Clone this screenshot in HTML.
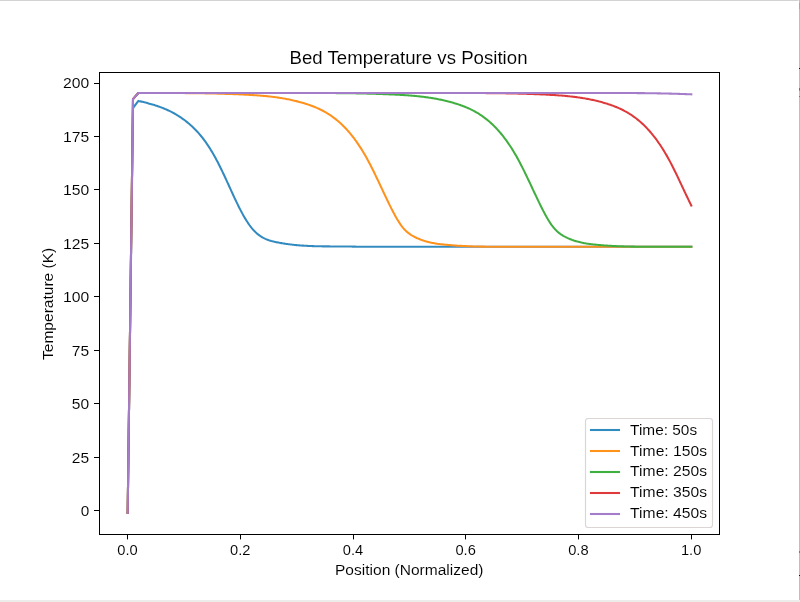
<!DOCTYPE html>
<html lang="en">
<head>
<meta charset="utf-8">
<title>Bed Temperature vs Position</title>
<style>
html,body{margin:0;padding:0;background:#ffffff;overflow:hidden;}
body{width:800px;height:602px;font-family:"Liberation Sans",sans-serif;}
svg{display:block;}
</style>
</head>
<body>
<svg width="800" height="602" viewBox="0 0 800 602">
<rect x="0" y="0" width="800" height="602" fill="#ffffff"/>
<rect x="0" y="0" width="798" height="1" fill="#d0d3d2"/>
<rect x="798" y="0" width="1" height="1" fill="#e9e5e3"/>
<rect x="0" y="600" width="800" height="2" fill="#ececea"/>
<rect x="799" y="0" width="1" height="600" fill="#bfbdc0"/>
<rect x="799" y="3" width="1" height="6" fill="#aaa6aa"/>
<rect x="799" y="68" width="1" height="1" fill="#111111"/>
<rect x="799" y="88" width="1" height="2" fill="#2a86c2"/>
<rect x="799" y="90" width="1" height="1" fill="#8a8a90"/>
<rect x="799" y="96" width="1" height="1" fill="#e2463c"/>
<rect x="799" y="551" width="1" height="2" fill="#3a8ec6"/>
<rect x="799" y="575" width="1" height="1" fill="#111111"/>
<defs><clipPath id="ax"><rect x="99.5" y="72.5" width="620" height="462"/></clipPath><filter id="gm" filterUnits="userSpaceOnUse" x="0" y="1" width="799" height="599" color-interpolation-filters="sRGB"><feComponentTransfer><feFuncR type="gamma" amplitude="1" exponent="0.79" offset="0"/><feFuncG type="gamma" amplitude="1" exponent="0.79" offset="0"/><feFuncB type="gamma" amplitude="1" exponent="0.79" offset="0"/></feComponentTransfer></filter></defs>
<g filter="url(#gm)">
<rect x="0" y="1" width="799" height="599" fill="#ffffff"/>
<g clip-path="url(#ax)" fill="none" stroke-width="2.08" stroke-linejoin="round" stroke-linecap="square">
<path d="M127.68,512.90 L133.00,108.00 L138.40,100.90 L139.40,101.15 L140.40,101.38 L141.40,101.62 L142.40,101.86 L143.40,102.10 L144.40,102.35 L145.40,102.60 L146.40,102.86 L147.40,103.11 L148.40,103.38 L149.40,103.65 L150.40,103.93 L151.40,104.21 L152.40,104.50 L153.40,104.80 L154.40,105.10 L155.40,105.42 L156.40,105.74 L157.40,106.07 L158.40,106.41 L159.40,106.77 L160.40,107.13 L161.40,107.50 L162.40,107.88 L163.40,108.28 L164.40,108.69 L165.40,109.11 L166.40,109.54 L167.40,109.98 L168.40,110.44 L169.40,110.92 L170.40,111.41 L171.40,111.91 L172.40,112.43 L173.40,112.96 L174.40,113.52 L175.40,114.08 L176.40,114.67 L177.40,115.27 L178.40,115.89 L179.40,116.53 L180.40,117.19 L181.40,117.87 L182.40,118.57 L183.40,119.28 L184.40,120.02 L185.40,120.78 L186.40,121.56 L187.40,122.36 L188.40,123.19 L189.40,124.04 L190.40,124.91 L191.40,125.81 L192.40,126.74 L193.40,127.69 L194.40,128.68 L195.40,129.69 L196.40,130.74 L197.40,131.81 L198.40,132.92 L199.40,134.07 L200.40,135.25 L201.40,136.47 L202.40,137.72 L203.40,139.01 L204.40,140.34 L205.40,141.72 L206.40,143.13 L207.40,144.58 L208.40,146.08 L209.40,147.63 L210.40,149.22 L211.40,150.85 L212.40,152.53 L213.40,154.26 L214.40,156.03 L215.40,157.85 L216.40,159.70 L217.40,161.60 L218.40,163.53 L219.40,165.49 L220.40,167.50 L221.40,169.53 L222.40,171.59 L223.40,173.68 L224.40,175.80 L225.40,177.95 L226.40,180.12 L227.40,182.31 L228.40,184.50 L229.40,186.71 L230.40,188.91 L231.40,191.11 L232.40,193.30 L233.40,195.48 L234.40,197.63 L235.40,199.76 L236.40,201.86 L237.40,203.92 L238.40,205.95 L239.40,207.93 L240.40,209.88 L241.40,211.78 L242.40,213.63 L243.40,215.43 L244.40,217.18 L245.40,218.87 L246.40,220.50 L247.40,222.06 L248.40,223.56 L249.40,225.00 L250.40,226.36 L251.40,227.64 L252.40,228.85 L253.40,229.99 L254.40,231.05 L255.40,232.05 L256.40,232.98 L257.40,233.84 L258.40,234.65 L259.40,235.40 L260.40,236.10 L261.40,236.74 L262.40,237.34 L263.40,237.89 L264.40,238.40 L265.40,238.87 L266.40,239.30 L267.40,239.69 L268.40,240.06 L269.40,240.39 L270.40,240.70 L271.40,240.99 L272.40,241.25 L273.40,241.50 L274.40,241.73 L275.40,241.95 L276.40,242.16 L277.40,242.37 L278.40,242.57 L279.40,242.76 L280.40,242.94 L281.40,243.12 L282.40,243.29 L283.40,243.46 L284.40,243.62 L285.40,243.77 L286.40,243.92 L287.40,244.06 L288.40,244.20 L289.40,244.33 L290.40,244.45 L291.40,244.57 L292.40,244.69 L293.40,244.80 L294.40,244.91 L295.40,245.01 L296.40,245.10 L297.40,245.19 L298.40,245.28 L299.40,245.36 L300.40,245.44 L301.40,245.52 L302.40,245.59 L303.40,245.66 L304.40,245.72 L305.40,245.78 L306.40,245.83 L307.40,245.89 L308.40,245.94 L309.40,245.98 L310.40,246.02 L311.40,246.06 L312.40,246.10 L313.40,246.14 L314.40,246.17 L315.40,246.20 L316.40,246.22 L317.40,246.25 L318.40,246.27 L319.40,246.29 L320.40,246.31 L321.40,246.33 L322.40,246.34 L323.40,246.36 L324.40,246.37 L325.40,246.38 L326.40,246.39 L327.40,246.40 L328.40,246.41 L329.40,246.41 L330.40,246.42 L331.40,246.42 L332.40,246.43 L333.40,246.43 L334.40,246.44 L335.40,246.44 L336.40,246.44 L337.40,246.45 L338.40,246.45 L339.40,246.46 L340.40,246.46 L341.40,246.47 L342.40,246.47 L343.40,246.48 L344.40,246.48 L345.40,246.49 L346.40,246.50 L347.40,246.51 L348.40,246.52 L349.40,246.54 L350.40,246.55 L351.40,246.57 L352.40,246.59 L353.40,246.61 L354.40,246.63 L355.40,246.65 L356.40,246.68 L357.40,246.71 L358.40,246.74 L359.40,246.75 L360.40,246.75 L361.40,246.75 L362.40,246.75 L363.40,246.75 L364.40,246.75 L365.40,246.75 L366.40,246.75 L367.40,246.75 L368.40,246.75 L369.40,246.75 L370.40,246.75 L371.40,246.75 L372.40,246.75 L373.40,246.75 L374.40,246.75 L375.40,246.75 L376.40,246.75 L377.40,246.75 L378.40,246.75 L379.40,246.75 L380.40,246.75 L381.40,246.75 L382.40,246.75 L383.40,246.75 L384.40,246.75 L385.40,246.75 L386.40,246.75 L387.40,246.75 L388.40,246.75 L389.40,246.75 L390.40,246.75 L391.40,246.75 L392.40,246.75 L393.40,246.75 L394.40,246.75 L395.40,246.75 L396.40,246.75 L397.40,246.75 L398.40,246.75 L399.40,246.75 L400.40,246.75 L401.40,246.75 L402.40,246.75 L403.40,246.75 L404.40,246.75 L405.40,246.75 L406.40,246.75 L407.40,246.75 L408.40,246.75 L409.40,246.75 L410.40,246.75 L411.40,246.75 L412.40,246.75 L413.40,246.75 L414.40,246.75 L415.40,246.75 L416.40,246.75 L417.40,246.75 L418.40,246.75 L419.40,246.75 L420.40,246.75 L421.40,246.75 L422.40,246.75 L423.40,246.75 L424.40,246.75 L425.40,246.75 L426.40,246.75 L427.40,246.75 L428.40,246.75 L429.40,246.75 L430.40,246.75 L431.40,246.75 L432.40,246.75 L433.40,246.75 L434.40,246.75 L435.40,246.75 L436.40,246.75 L437.40,246.75 L438.40,246.75 L439.40,246.75 L440.40,246.75 L441.40,246.75 L442.40,246.75 L443.40,246.75 L444.40,246.75 L445.40,246.75 L446.40,246.75 L447.40,246.75 L448.40,246.75 L449.40,246.75 L450.40,246.75 L451.40,246.75 L452.40,246.75 L453.40,246.75 L454.40,246.75 L455.40,246.75 L456.40,246.75 L457.40,246.75 L458.40,246.75 L459.40,246.75 L460.40,246.75 L461.40,246.75 L462.40,246.75 L463.40,246.75 L464.40,246.75 L465.40,246.75 L466.40,246.75 L467.40,246.75 L468.40,246.75 L469.40,246.75 L470.40,246.75 L471.40,246.75 L472.40,246.75 L473.40,246.75 L474.40,246.75 L475.40,246.75 L476.40,246.75 L477.40,246.75 L478.40,246.75 L479.40,246.75 L480.40,246.75 L481.40,246.75 L482.40,246.75 L483.40,246.75 L484.40,246.75 L485.40,246.75 L486.40,246.75 L487.40,246.75 L488.40,246.75 L489.40,246.75 L490.40,246.75 L491.40,246.75 L492.40,246.75 L493.40,246.75 L494.40,246.75 L495.40,246.75 L496.40,246.75 L497.40,246.75 L498.40,246.75 L499.40,246.75 L500.40,246.75 L501.40,246.75 L502.40,246.75 L503.40,246.75 L504.40,246.75 L505.40,246.75 L506.40,246.75 L507.40,246.75 L508.40,246.75 L509.40,246.75 L510.40,246.75 L511.40,246.75 L512.40,246.75 L513.40,246.75 L514.40,246.75 L515.40,246.75 L516.40,246.75 L517.40,246.75 L518.40,246.75 L519.40,246.75 L520.40,246.75 L521.40,246.75 L522.40,246.75 L523.40,246.75 L524.40,246.75 L525.40,246.75 L526.40,246.75 L527.40,246.75 L528.40,246.75 L529.40,246.75 L530.40,246.75 L531.40,246.75 L532.40,246.75 L533.40,246.75 L534.40,246.75 L535.40,246.75 L536.40,246.75 L537.40,246.75 L538.40,246.75 L539.40,246.75 L540.40,246.75 L541.40,246.75 L542.40,246.75 L543.40,246.75 L544.40,246.75 L545.40,246.75 L546.40,246.75 L547.40,246.75 L548.40,246.75 L549.40,246.75 L550.40,246.75 L551.40,246.75 L552.40,246.75 L553.40,246.75 L554.40,246.75 L555.40,246.75 L556.40,246.75 L557.40,246.75 L558.40,246.75 L559.40,246.75 L560.40,246.75 L561.40,246.75 L562.40,246.75 L563.40,246.75 L564.40,246.75 L565.40,246.75 L566.40,246.75 L567.40,246.75 L568.40,246.75 L569.40,246.75 L570.40,246.75 L571.40,246.75 L572.40,246.75 L573.40,246.75 L574.40,246.75 L575.40,246.75 L576.40,246.75 L577.40,246.75 L578.40,246.75 L579.40,246.75 L580.40,246.75 L581.40,246.75 L582.40,246.75 L583.40,246.75 L584.40,246.75 L585.40,246.75 L586.40,246.75 L587.40,246.75 L588.40,246.75 L589.40,246.75 L590.40,246.75 L591.40,246.75 L592.40,246.75 L593.40,246.75 L594.40,246.75 L595.40,246.75 L596.40,246.75 L597.40,246.75 L598.40,246.75 L599.40,246.75 L600.40,246.75 L601.40,246.75 L602.40,246.75 L603.40,246.75 L604.40,246.75 L605.40,246.75 L606.40,246.75 L607.40,246.75 L608.40,246.75 L609.40,246.75 L610.40,246.75 L611.40,246.75 L612.40,246.75 L613.40,246.75 L614.40,246.75 L615.40,246.75 L616.40,246.75 L617.40,246.75 L618.40,246.75 L619.40,246.75 L620.40,246.75 L621.40,246.75 L622.40,246.75 L623.40,246.75 L624.40,246.75 L625.40,246.75 L626.40,246.75 L627.40,246.75 L628.40,246.75 L629.40,246.75 L630.40,246.75 L631.40,246.75 L632.40,246.75 L633.40,246.75 L634.40,246.75 L635.40,246.75 L636.40,246.75 L637.40,246.75 L638.40,246.75 L639.40,246.75 L640.40,246.75 L641.40,246.75 L642.40,246.75 L643.40,246.75 L644.40,246.75 L645.40,246.75 L646.40,246.75 L647.40,246.75 L648.40,246.75 L649.40,246.75 L650.40,246.75 L651.40,246.75 L652.40,246.75 L653.40,246.75 L654.40,246.75 L655.40,246.75 L656.40,246.75 L657.40,246.75 L658.40,246.75 L659.40,246.75 L660.40,246.75 L661.40,246.75 L662.40,246.75 L663.40,246.75 L664.40,246.75 L665.40,246.75 L666.40,246.75 L667.40,246.75 L668.40,246.75 L669.40,246.75 L670.40,246.75 L671.40,246.75 L672.40,246.75 L673.40,246.75 L674.40,246.75 L675.40,246.75 L676.40,246.75 L677.40,246.75 L678.40,246.75 L679.40,246.75 L680.40,246.75 L681.40,246.75 L682.40,246.75 L683.40,246.75 L684.40,246.75 L685.40,246.75 L686.40,246.75 L687.40,246.75 L688.40,246.75 L689.40,246.75 L690.40,246.75 L691.30,246.75" stroke="#1f77b4"/>
<path d="M127.68,512.90 L133.00,99.10 L138.30,93.00 L139.30,93.00 L140.30,93.00 L141.30,93.00 L142.30,93.00 L143.30,93.00 L144.30,93.00 L145.30,93.00 L146.30,93.00 L147.30,93.00 L148.30,93.00 L149.30,93.00 L150.30,93.00 L151.30,93.00 L152.30,93.00 L153.30,93.00 L154.30,93.00 L155.30,93.00 L156.30,93.00 L157.30,93.00 L158.30,93.00 L159.30,93.00 L160.30,93.00 L161.30,93.00 L162.30,93.00 L163.30,93.00 L164.30,93.00 L165.30,93.00 L166.30,93.00 L167.30,93.00 L168.30,93.01 L169.30,93.01 L170.30,93.01 L171.30,93.01 L172.30,93.02 L173.30,93.02 L174.30,93.03 L175.30,93.03 L176.30,93.03 L177.30,93.04 L178.30,93.04 L179.30,93.05 L180.30,93.05 L181.30,93.06 L182.30,93.07 L183.30,93.07 L184.30,93.08 L185.30,93.09 L186.30,93.10 L187.30,93.11 L188.30,93.12 L189.30,93.12 L190.30,93.13 L191.30,93.14 L192.30,93.16 L193.30,93.17 L194.30,93.18 L195.30,93.19 L196.30,93.20 L197.30,93.22 L198.30,93.23 L199.30,93.25 L200.30,93.26 L201.30,93.28 L202.30,93.29 L203.30,93.31 L204.30,93.33 L205.30,93.34 L206.30,93.36 L207.30,93.38 L208.30,93.40 L209.30,93.42 L210.30,93.44 L211.30,93.46 L212.30,93.48 L213.30,93.51 L214.30,93.53 L215.30,93.56 L216.30,93.58 L217.30,93.61 L218.30,93.63 L219.30,93.66 L220.30,93.69 L221.30,93.72 L222.30,93.74 L223.30,93.77 L224.30,93.81 L225.30,93.84 L226.30,93.87 L227.30,93.90 L228.30,93.94 L229.30,93.97 L230.30,94.01 L231.30,94.04 L232.30,94.08 L233.30,94.12 L234.30,94.16 L235.30,94.20 L236.30,94.24 L237.30,94.28 L238.30,94.33 L239.30,94.37 L240.30,94.41 L241.30,94.46 L242.30,94.51 L243.30,94.55 L244.30,94.60 L245.30,94.65 L246.30,94.70 L247.30,94.75 L248.30,94.81 L249.30,94.86 L250.30,94.92 L251.30,94.98 L252.30,95.04 L253.30,95.10 L254.30,95.17 L255.30,95.23 L256.30,95.30 L257.30,95.38 L258.30,95.45 L259.30,95.53 L260.30,95.61 L261.30,95.69 L262.30,95.77 L263.30,95.86 L264.30,95.95 L265.30,96.05 L266.30,96.14 L267.30,96.25 L268.30,96.35 L269.30,96.46 L270.30,96.57 L271.30,96.69 L272.30,96.81 L273.30,96.93 L274.30,97.06 L275.30,97.19 L276.30,97.33 L277.30,97.47 L278.30,97.61 L279.30,97.76 L280.30,97.92 L281.30,98.08 L282.30,98.24 L283.30,98.41 L284.30,98.59 L285.30,98.77 L286.30,98.95 L287.30,99.15 L288.30,99.34 L289.30,99.55 L290.30,99.75 L291.30,99.97 L292.30,100.19 L293.30,100.41 L294.30,100.65 L295.30,100.89 L296.30,101.13 L297.30,101.38 L298.30,101.64 L299.30,101.91 L300.30,102.18 L301.30,102.46 L302.30,102.74 L303.30,103.04 L304.30,103.34 L305.30,103.65 L306.30,103.96 L307.30,104.28 L308.30,104.62 L309.30,104.96 L310.30,105.31 L311.30,105.67 L312.30,106.04 L313.30,106.43 L314.30,106.82 L315.30,107.23 L316.30,107.65 L317.30,108.09 L318.30,108.54 L319.30,109.00 L320.30,109.48 L321.30,109.97 L322.30,110.48 L323.30,111.01 L324.30,111.56 L325.30,112.12 L326.30,112.70 L327.30,113.30 L328.30,113.92 L329.30,114.56 L330.30,115.22 L331.30,115.90 L332.30,116.61 L333.30,117.33 L334.30,118.08 L335.30,118.85 L336.30,119.65 L337.30,120.47 L338.30,121.31 L339.30,122.19 L340.30,123.08 L341.30,124.01 L342.30,124.96 L343.30,125.94 L344.30,126.94 L345.30,127.98 L346.30,129.04 L347.30,130.14 L348.30,131.26 L349.30,132.42 L350.30,133.61 L351.30,134.83 L352.30,136.08 L353.30,137.37 L354.30,138.68 L355.30,140.04 L356.30,141.43 L357.30,142.85 L358.30,144.31 L359.30,145.81 L360.30,147.34 L361.30,148.91 L362.30,150.52 L363.30,152.17 L364.30,153.85 L365.30,155.58 L366.30,157.34 L367.30,159.15 L368.30,161.00 L369.30,162.89 L370.30,164.81 L371.30,166.77 L372.30,168.76 L373.30,170.78 L374.30,172.82 L375.30,174.88 L376.30,176.97 L377.30,179.06 L378.30,181.17 L379.30,183.29 L380.30,185.42 L381.30,187.55 L382.30,189.68 L383.30,191.81 L384.30,193.93 L385.30,196.04 L386.30,198.14 L387.30,200.22 L388.30,202.29 L389.30,204.34 L390.30,206.36 L391.30,208.36 L392.30,210.32 L393.30,212.24 L394.30,214.11 L395.30,215.94 L396.30,217.71 L397.30,219.42 L398.30,221.06 L399.30,222.63 L400.30,224.12 L401.30,225.53 L402.30,226.85 L403.30,228.07 L404.30,229.20 L405.30,230.24 L406.30,231.21 L407.30,232.10 L408.30,232.92 L409.30,233.68 L410.30,234.39 L411.30,235.04 L412.30,235.65 L413.30,236.21 L414.30,236.75 L415.30,237.26 L416.30,237.74 L417.30,238.21 L418.30,238.65 L419.30,239.07 L420.30,239.47 L421.30,239.85 L422.30,240.21 L423.30,240.55 L424.30,240.87 L425.30,241.18 L426.30,241.47 L427.30,241.75 L428.30,242.01 L429.30,242.25 L430.30,242.48 L431.30,242.70 L432.30,242.91 L433.30,243.10 L434.30,243.28 L435.30,243.45 L436.30,243.61 L437.30,243.76 L438.30,243.91 L439.30,244.04 L440.30,244.17 L441.30,244.29 L442.30,244.40 L443.30,244.51 L444.30,244.61 L445.30,244.71 L446.30,244.81 L447.30,244.90 L448.30,244.99 L449.30,245.08 L450.30,245.16 L451.30,245.25 L452.30,245.32 L453.30,245.40 L454.30,245.47 L455.30,245.54 L456.30,245.61 L457.30,245.68 L458.30,245.74 L459.30,245.80 L460.30,245.86 L461.30,245.91 L462.30,245.97 L463.30,246.02 L464.30,246.07 L465.30,246.12 L466.30,246.16 L467.30,246.20 L468.30,246.24 L469.30,246.28 L470.30,246.32 L471.30,246.36 L472.30,246.39 L473.30,246.42 L474.30,246.45 L475.30,246.48 L476.30,246.50 L477.30,246.53 L478.30,246.55 L479.30,246.57 L480.30,246.59 L481.30,246.61 L482.30,246.63 L483.30,246.65 L484.30,246.66 L485.30,246.68 L486.30,246.69 L487.30,246.70 L488.30,246.71 L489.30,246.72 L490.30,246.73 L491.30,246.74 L492.30,246.74 L493.30,246.75 L494.30,246.75 L495.30,246.75 L496.30,246.75 L497.30,246.75 L498.30,246.75 L499.30,246.75 L500.30,246.75 L501.30,246.75 L502.30,246.75 L503.30,246.75 L504.30,246.75 L505.30,246.75 L506.30,246.75 L507.30,246.75 L508.30,246.75 L509.30,246.75 L510.30,246.75 L511.30,246.75 L512.30,246.75 L513.30,246.75 L514.30,246.75 L515.30,246.75 L516.30,246.74 L517.30,246.74 L518.30,246.74 L519.30,246.74 L520.30,246.75 L521.30,246.75 L522.30,246.75 L523.30,246.75 L524.30,246.75 L525.30,246.75 L526.30,246.75 L527.30,246.75 L528.30,246.75 L529.30,246.75 L530.30,246.75 L531.30,246.75 L532.30,246.75 L533.30,246.75 L534.30,246.75 L535.30,246.75 L536.30,246.75 L537.30,246.75 L538.30,246.75 L539.30,246.75 L540.30,246.75 L541.30,246.75 L542.30,246.75 L543.30,246.75 L544.30,246.75 L545.30,246.75 L546.30,246.75 L547.30,246.75 L548.30,246.75 L549.30,246.75 L550.30,246.75 L551.30,246.75 L552.30,246.75 L553.30,246.75 L554.30,246.75 L555.30,246.75 L556.30,246.75 L557.30,246.75 L558.30,246.75 L559.30,246.75 L560.30,246.75 L561.30,246.75 L562.30,246.75 L563.30,246.75 L564.30,246.75 L565.30,246.75 L566.30,246.75 L567.30,246.75 L568.30,246.75 L569.30,246.75 L570.30,246.75 L571.30,246.75 L572.30,246.75 L573.30,246.75 L574.30,246.75 L575.30,246.75 L576.30,246.75 L577.30,246.75 L578.30,246.75 L579.30,246.75 L580.30,246.75 L581.30,246.75 L582.30,246.75 L583.30,246.75 L584.30,246.75 L585.30,246.75 L586.30,246.75 L587.30,246.75 L588.30,246.75 L589.30,246.75 L590.30,246.75 L591.30,246.75 L592.30,246.75 L593.30,246.75 L594.30,246.75 L595.30,246.75 L596.30,246.75 L597.30,246.75 L598.30,246.75 L599.30,246.75 L600.30,246.75 L601.30,246.75 L602.30,246.75 L603.30,246.75 L604.30,246.75 L605.30,246.75 L606.30,246.75 L607.30,246.75 L608.30,246.75 L609.30,246.75 L610.30,246.75 L611.30,246.75 L612.30,246.75 L613.30,246.75 L614.30,246.75 L615.30,246.75 L616.30,246.75 L617.30,246.75 L618.30,246.75 L619.30,246.75 L620.30,246.75 L621.30,246.75 L622.30,246.75 L623.30,246.75 L624.30,246.75 L625.30,246.75 L626.30,246.75 L627.30,246.75 L628.30,246.75 L629.30,246.75 L630.30,246.75 L631.30,246.75 L632.30,246.75 L633.30,246.75 L634.30,246.75 L635.30,246.75 L636.30,246.75 L637.30,246.75 L638.30,246.75 L639.30,246.75 L640.30,246.75 L641.30,246.75 L642.30,246.75 L643.30,246.75 L644.30,246.75 L645.30,246.75 L646.30,246.75 L647.30,246.75 L648.30,246.75 L649.30,246.75 L650.30,246.75 L651.30,246.75 L652.30,246.75 L653.30,246.75 L654.30,246.75 L655.30,246.75 L656.30,246.75 L657.30,246.75 L658.30,246.75 L659.30,246.75 L660.30,246.75 L661.30,246.75 L662.30,246.75 L663.30,246.75 L664.30,246.75 L665.30,246.75 L666.30,246.75 L667.30,246.75 L668.30,246.75 L669.30,246.75 L670.30,246.75 L671.30,246.75 L672.30,246.75 L673.30,246.75 L674.30,246.75 L675.30,246.75 L676.30,246.75 L677.30,246.75 L678.30,246.75 L679.30,246.75 L680.30,246.75 L681.30,246.75 L682.30,246.75 L683.30,246.75 L684.30,246.75 L685.30,246.75 L686.30,246.75 L687.30,246.75 L688.30,246.75 L689.30,246.75 L690.30,246.75 L691.30,246.75" stroke="#ff7f0e"/>
<path d="M127.68,512.90 L133.00,99.10 L138.30,93.00 L139.30,93.00 L140.30,93.00 L141.30,93.00 L142.30,93.00 L143.30,93.00 L144.30,93.00 L145.30,93.00 L146.30,93.00 L147.30,93.00 L148.30,93.00 L149.30,93.00 L150.30,93.00 L151.30,93.00 L152.30,93.00 L153.30,93.00 L154.30,93.00 L155.30,93.00 L156.30,93.00 L157.30,93.00 L158.30,93.00 L159.30,93.00 L160.30,93.00 L161.30,93.00 L162.30,93.00 L163.30,93.00 L164.30,93.00 L165.30,93.00 L166.30,93.00 L167.30,93.00 L168.30,93.00 L169.30,93.00 L170.30,93.00 L171.30,93.00 L172.30,93.00 L173.30,93.00 L174.30,93.00 L175.30,93.00 L176.30,93.00 L177.30,93.00 L178.30,93.00 L179.30,93.00 L180.30,93.00 L181.30,93.00 L182.30,93.00 L183.30,93.00 L184.30,93.00 L185.30,93.00 L186.30,93.00 L187.30,93.00 L188.30,93.00 L189.30,93.00 L190.30,93.00 L191.30,93.00 L192.30,93.00 L193.30,93.00 L194.30,93.00 L195.30,93.00 L196.30,93.00 L197.30,93.00 L198.30,93.00 L199.30,93.00 L200.30,93.00 L201.30,93.00 L202.30,93.00 L203.30,93.00 L204.30,93.00 L205.30,93.00 L206.30,93.00 L207.30,93.00 L208.30,93.00 L209.30,93.00 L210.30,93.00 L211.30,93.00 L212.30,93.00 L213.30,93.00 L214.30,93.00 L215.30,93.00 L216.30,93.00 L217.30,93.00 L218.30,93.00 L219.30,93.00 L220.30,93.00 L221.30,93.00 L222.30,93.00 L223.30,93.00 L224.30,93.00 L225.30,93.00 L226.30,93.00 L227.30,93.00 L228.30,93.00 L229.30,93.00 L230.30,93.00 L231.30,93.00 L232.30,93.00 L233.30,93.00 L234.30,93.00 L235.30,93.00 L236.30,93.00 L237.30,93.00 L238.30,93.00 L239.30,93.00 L240.30,93.00 L241.30,93.00 L242.30,93.00 L243.30,93.00 L244.30,93.00 L245.30,93.00 L246.30,93.00 L247.30,93.00 L248.30,93.00 L249.30,93.00 L250.30,93.00 L251.30,93.00 L252.30,93.00 L253.30,93.00 L254.30,93.00 L255.30,93.00 L256.30,93.00 L257.30,93.00 L258.30,93.00 L259.30,93.00 L260.30,93.00 L261.30,93.00 L262.30,93.00 L263.30,93.00 L264.30,93.00 L265.30,93.00 L266.30,93.00 L267.30,93.00 L268.30,93.00 L269.30,93.00 L270.30,93.00 L271.30,93.00 L272.30,93.00 L273.30,93.00 L274.30,93.00 L275.30,93.00 L276.30,93.00 L277.30,93.00 L278.30,93.00 L279.30,93.00 L280.30,93.00 L281.30,93.00 L282.30,93.00 L283.30,93.00 L284.30,93.00 L285.30,93.00 L286.30,93.00 L287.30,93.00 L288.30,93.00 L289.30,93.00 L290.30,93.00 L291.30,93.00 L292.30,93.00 L293.30,93.00 L294.30,93.00 L295.30,93.00 L296.30,93.00 L297.30,93.00 L298.30,93.00 L299.30,93.00 L300.30,93.00 L301.30,93.00 L302.30,93.00 L303.30,93.00 L304.30,93.00 L305.30,93.00 L306.30,93.00 L307.30,93.00 L308.30,93.00 L309.30,93.00 L310.30,93.00 L311.30,93.00 L312.30,93.00 L313.30,93.00 L314.30,93.00 L315.30,93.00 L316.30,93.00 L317.30,93.00 L318.30,93.00 L319.30,93.01 L320.30,93.01 L321.30,93.01 L322.30,93.02 L323.30,93.02 L324.30,93.02 L325.30,93.03 L326.30,93.03 L327.30,93.04 L328.30,93.04 L329.30,93.05 L330.30,93.05 L331.30,93.06 L332.30,93.06 L333.30,93.07 L334.30,93.08 L335.30,93.08 L336.30,93.09 L337.30,93.10 L338.30,93.11 L339.30,93.12 L340.30,93.13 L341.30,93.14 L342.30,93.15 L343.30,93.16 L344.30,93.17 L345.30,93.18 L346.30,93.19 L347.30,93.21 L348.30,93.22 L349.30,93.23 L350.30,93.25 L351.30,93.26 L352.30,93.28 L353.30,93.30 L354.30,93.31 L355.30,93.33 L356.30,93.35 L357.30,93.37 L358.30,93.39 L359.30,93.41 L360.30,93.43 L361.30,93.45 L362.30,93.47 L363.30,93.49 L364.30,93.51 L365.30,93.54 L366.30,93.56 L367.30,93.59 L368.30,93.61 L369.30,93.64 L370.30,93.67 L371.30,93.70 L372.30,93.72 L373.30,93.75 L374.30,93.78 L375.30,93.82 L376.30,93.85 L377.30,93.88 L378.30,93.91 L379.30,93.95 L380.30,93.98 L381.30,94.02 L382.30,94.06 L383.30,94.09 L384.30,94.13 L385.30,94.17 L386.30,94.21 L387.30,94.25 L388.30,94.30 L389.30,94.34 L390.30,94.38 L391.30,94.43 L392.30,94.47 L393.30,94.52 L394.30,94.57 L395.30,94.62 L396.30,94.67 L397.30,94.72 L398.30,94.77 L399.30,94.82 L400.30,94.88 L401.30,94.94 L402.30,95.00 L403.30,95.06 L404.30,95.12 L405.30,95.19 L406.30,95.25 L407.30,95.32 L408.30,95.40 L409.30,95.47 L410.30,95.55 L411.30,95.63 L412.30,95.71 L413.30,95.80 L414.30,95.89 L415.30,95.98 L416.30,96.08 L417.30,96.17 L418.30,96.28 L419.30,96.38 L420.30,96.49 L421.30,96.60 L422.30,96.72 L423.30,96.84 L424.30,96.97 L425.30,97.10 L426.30,97.23 L427.30,97.37 L428.30,97.51 L429.30,97.66 L430.30,97.81 L431.30,97.97 L432.30,98.13 L433.30,98.29 L434.30,98.47 L435.30,98.64 L436.30,98.82 L437.30,99.01 L438.30,99.20 L439.30,99.40 L440.30,99.61 L441.30,99.82 L442.30,100.03 L443.30,100.26 L444.30,100.48 L445.30,100.72 L446.30,100.96 L447.30,101.21 L448.30,101.46 L449.30,101.72 L450.30,101.99 L451.30,102.26 L452.30,102.54 L453.30,102.83 L454.30,103.13 L455.30,103.43 L456.30,103.74 L457.30,104.06 L458.30,104.38 L459.30,104.72 L460.30,105.06 L461.30,105.42 L462.30,105.78 L463.30,106.16 L464.30,106.54 L465.30,106.94 L466.30,107.36 L467.30,107.78 L468.30,108.22 L469.30,108.67 L470.30,109.14 L471.30,109.62 L472.30,110.12 L473.30,110.64 L474.30,111.17 L475.30,111.72 L476.30,112.29 L477.30,112.88 L478.30,113.48 L479.30,114.11 L480.30,114.76 L481.30,115.42 L482.30,116.11 L483.30,116.82 L484.30,117.55 L485.30,118.31 L486.30,119.09 L487.30,119.89 L488.30,120.72 L489.30,121.57 L490.30,122.45 L491.30,123.36 L492.30,124.29 L493.30,125.25 L494.30,126.23 L495.30,127.25 L496.30,128.29 L497.30,129.37 L498.30,130.47 L499.30,131.61 L500.30,132.77 L501.30,133.97 L502.30,135.20 L503.30,136.46 L504.30,137.76 L505.30,139.09 L506.30,140.45 L507.30,141.85 L508.30,143.28 L509.30,144.76 L510.30,146.26 L511.30,147.81 L512.30,149.39 L513.30,151.01 L514.30,152.67 L515.30,154.37 L516.30,156.10 L517.30,157.88 L518.30,159.70 L519.30,161.56 L520.30,163.46 L521.30,165.40 L522.30,167.37 L523.30,169.36 L524.30,171.39 L525.30,173.44 L526.30,175.51 L527.30,177.59 L528.30,179.70 L529.30,181.81 L530.30,183.93 L531.30,186.06 L532.30,188.19 L533.30,190.32 L534.30,192.44 L535.30,194.56 L536.30,196.67 L537.30,198.77 L538.30,200.85 L539.30,202.91 L540.30,204.95 L541.30,206.96 L542.30,208.95 L543.30,210.90 L544.30,212.81 L545.30,214.67 L546.30,216.48 L547.30,218.23 L548.30,219.92 L549.30,221.54 L550.30,223.09 L551.30,224.55 L552.30,225.93 L553.30,227.22 L554.30,228.42 L555.30,229.52 L556.30,230.54 L557.30,231.48 L558.30,232.35 L559.30,233.16 L560.30,233.90 L561.30,234.59 L562.30,235.23 L563.30,235.82 L564.30,236.38 L565.30,236.91 L566.30,237.41 L567.30,237.89 L568.30,238.34 L569.30,238.78 L570.30,239.19 L571.30,239.58 L572.30,239.96 L573.30,240.31 L574.30,240.65 L575.30,240.97 L576.30,241.27 L577.30,241.56 L578.30,241.83 L579.30,242.08 L580.30,242.32 L581.30,242.55 L582.30,242.76 L583.30,242.96 L584.30,243.15 L585.30,243.33 L586.30,243.50 L587.30,243.66 L588.30,243.81 L589.30,243.95 L590.30,244.08 L591.30,244.20 L592.30,244.32 L593.30,244.44 L594.30,244.54 L595.30,244.65 L596.30,244.74 L597.30,244.84 L598.30,244.93 L599.30,245.02 L600.30,245.11 L601.30,245.19 L602.30,245.27 L603.30,245.35 L604.30,245.42 L605.30,245.49 L606.30,245.56 L607.30,245.63 L608.30,245.70 L609.30,245.76 L610.30,245.82 L611.30,245.88 L612.30,245.93 L613.30,245.98 L614.30,246.03 L615.30,246.08 L616.30,246.13 L617.30,246.17 L618.30,246.22 L619.30,246.26 L620.30,246.29 L621.30,246.33 L622.30,246.37 L623.30,246.40 L624.30,246.43 L625.30,246.46 L626.30,246.49 L627.30,246.51 L628.30,246.54 L629.30,246.56 L630.30,246.58 L631.30,246.60 L632.30,246.62 L633.30,246.64 L634.30,246.65 L635.30,246.67 L636.30,246.68 L637.30,246.69 L638.30,246.70 L639.30,246.71 L640.30,246.72 L641.30,246.73 L642.30,246.74 L643.30,246.74 L644.30,246.75 L645.30,246.75 L646.30,246.75 L647.30,246.75 L648.30,246.75 L649.30,246.75 L650.30,246.75 L651.30,246.75 L652.30,246.75 L653.30,246.75 L654.30,246.75 L655.30,246.75 L656.30,246.75 L657.30,246.75 L658.30,246.75 L659.30,246.75 L660.30,246.75 L661.30,246.75 L662.30,246.75 L663.30,246.75 L664.30,246.75 L665.30,246.75 L666.30,246.75 L667.30,246.74 L668.30,246.74 L669.30,246.74 L670.30,246.74 L671.30,246.75 L672.30,246.75 L673.30,246.75 L674.30,246.75 L675.30,246.75 L676.30,246.75 L677.30,246.75 L678.30,246.75 L679.30,246.75 L680.30,246.75 L681.30,246.75 L682.30,246.75 L683.30,246.75 L684.30,246.75 L685.30,246.75 L686.30,246.75 L687.30,246.75 L688.30,246.75 L689.30,246.75 L690.30,246.75 L691.30,246.75" stroke="#2ca02c"/>
<path d="M127.68,512.90 L133.00,99.10 L138.30,93.00 L139.30,93.00 L140.30,93.00 L141.30,93.00 L142.30,93.00 L143.30,93.00 L144.30,93.00 L145.30,93.00 L146.30,93.00 L147.30,93.00 L148.30,93.00 L149.30,93.00 L150.30,93.00 L151.30,93.00 L152.30,93.00 L153.30,93.00 L154.30,93.00 L155.30,93.00 L156.30,93.00 L157.30,93.00 L158.30,93.00 L159.30,93.00 L160.30,93.00 L161.30,93.00 L162.30,93.00 L163.30,93.00 L164.30,93.00 L165.30,93.00 L166.30,93.00 L167.30,93.00 L168.30,93.00 L169.30,93.00 L170.30,93.00 L171.30,93.00 L172.30,93.00 L173.30,93.00 L174.30,93.00 L175.30,93.00 L176.30,93.00 L177.30,93.00 L178.30,93.00 L179.30,93.00 L180.30,93.00 L181.30,93.00 L182.30,93.00 L183.30,93.00 L184.30,93.00 L185.30,93.00 L186.30,93.00 L187.30,93.00 L188.30,93.00 L189.30,93.00 L190.30,93.00 L191.30,93.00 L192.30,93.00 L193.30,93.00 L194.30,93.00 L195.30,93.00 L196.30,93.00 L197.30,93.00 L198.30,93.00 L199.30,93.00 L200.30,93.00 L201.30,93.00 L202.30,93.00 L203.30,93.00 L204.30,93.00 L205.30,93.00 L206.30,93.00 L207.30,93.00 L208.30,93.00 L209.30,93.00 L210.30,93.00 L211.30,93.00 L212.30,93.00 L213.30,93.00 L214.30,93.00 L215.30,93.00 L216.30,93.00 L217.30,93.00 L218.30,93.00 L219.30,93.00 L220.30,93.00 L221.30,93.00 L222.30,93.00 L223.30,93.00 L224.30,93.00 L225.30,93.00 L226.30,93.00 L227.30,93.00 L228.30,93.00 L229.30,93.00 L230.30,93.00 L231.30,93.00 L232.30,93.00 L233.30,93.00 L234.30,93.00 L235.30,93.00 L236.30,93.00 L237.30,93.00 L238.30,93.00 L239.30,93.00 L240.30,93.00 L241.30,93.00 L242.30,93.00 L243.30,93.00 L244.30,93.00 L245.30,93.00 L246.30,93.00 L247.30,93.00 L248.30,93.00 L249.30,93.00 L250.30,93.00 L251.30,93.00 L252.30,93.00 L253.30,93.00 L254.30,93.00 L255.30,93.00 L256.30,93.00 L257.30,93.00 L258.30,93.00 L259.30,93.00 L260.30,93.00 L261.30,93.00 L262.30,93.00 L263.30,93.00 L264.30,93.00 L265.30,93.00 L266.30,93.00 L267.30,93.00 L268.30,93.00 L269.30,93.00 L270.30,93.00 L271.30,93.00 L272.30,93.00 L273.30,93.00 L274.30,93.00 L275.30,93.00 L276.30,93.00 L277.30,93.00 L278.30,93.00 L279.30,93.00 L280.30,93.00 L281.30,93.00 L282.30,93.00 L283.30,93.00 L284.30,93.00 L285.30,93.00 L286.30,93.00 L287.30,93.00 L288.30,93.00 L289.30,93.00 L290.30,93.00 L291.30,93.00 L292.30,93.00 L293.30,93.00 L294.30,93.00 L295.30,93.00 L296.30,93.00 L297.30,93.00 L298.30,93.00 L299.30,93.00 L300.30,93.00 L301.30,93.00 L302.30,93.00 L303.30,93.00 L304.30,93.00 L305.30,93.00 L306.30,93.00 L307.30,93.00 L308.30,93.00 L309.30,93.00 L310.30,93.00 L311.30,93.00 L312.30,93.00 L313.30,93.00 L314.30,93.00 L315.30,93.00 L316.30,93.00 L317.30,93.00 L318.30,93.00 L319.30,93.00 L320.30,93.00 L321.30,93.00 L322.30,93.00 L323.30,93.00 L324.30,93.00 L325.30,93.00 L326.30,93.00 L327.30,93.00 L328.30,93.00 L329.30,93.00 L330.30,93.00 L331.30,93.00 L332.30,93.00 L333.30,93.00 L334.30,93.00 L335.30,93.00 L336.30,93.00 L337.30,93.00 L338.30,93.00 L339.30,93.00 L340.30,93.00 L341.30,93.00 L342.30,93.00 L343.30,93.00 L344.30,93.00 L345.30,93.00 L346.30,93.00 L347.30,93.00 L348.30,93.00 L349.30,93.00 L350.30,93.00 L351.30,93.00 L352.30,93.00 L353.30,93.00 L354.30,93.00 L355.30,93.00 L356.30,93.00 L357.30,93.00 L358.30,93.00 L359.30,93.00 L360.30,93.00 L361.30,93.00 L362.30,93.00 L363.30,93.00 L364.30,93.00 L365.30,93.00 L366.30,93.00 L367.30,93.00 L368.30,93.00 L369.30,93.00 L370.30,93.00 L371.30,93.00 L372.30,93.00 L373.30,93.00 L374.30,93.00 L375.30,93.00 L376.30,93.00 L377.30,93.00 L378.30,93.00 L379.30,93.00 L380.30,93.00 L381.30,93.00 L382.30,93.00 L383.30,93.00 L384.30,93.00 L385.30,93.00 L386.30,93.00 L387.30,93.00 L388.30,93.00 L389.30,93.00 L390.30,93.00 L391.30,93.00 L392.30,93.00 L393.30,93.00 L394.30,93.00 L395.30,93.00 L396.30,93.00 L397.30,93.00 L398.30,93.00 L399.30,93.00 L400.30,93.00 L401.30,93.00 L402.30,93.00 L403.30,93.00 L404.30,93.00 L405.30,93.00 L406.30,93.00 L407.30,93.00 L408.30,93.00 L409.30,93.00 L410.30,93.00 L411.30,93.00 L412.30,93.00 L413.30,93.00 L414.30,93.00 L415.30,93.00 L416.30,93.00 L417.30,93.00 L418.30,93.00 L419.30,93.00 L420.30,93.00 L421.30,93.00 L422.30,93.00 L423.30,93.00 L424.30,93.00 L425.30,93.00 L426.30,93.00 L427.30,93.00 L428.30,93.00 L429.30,93.00 L430.30,93.00 L431.30,93.00 L432.30,93.00 L433.30,93.00 L434.30,93.00 L435.30,93.00 L436.30,93.00 L437.30,93.00 L438.30,93.00 L439.30,93.00 L440.30,93.00 L441.30,93.00 L442.30,93.00 L443.30,93.00 L444.30,93.00 L445.30,93.00 L446.30,93.00 L447.30,93.00 L448.30,93.00 L449.30,93.00 L450.30,93.00 L451.30,93.00 L452.30,93.00 L453.30,93.00 L454.30,93.00 L455.30,93.00 L456.30,93.00 L457.30,93.00 L458.30,93.00 L459.30,93.00 L460.30,93.00 L461.30,93.00 L462.30,93.00 L463.30,93.00 L464.30,93.00 L465.30,93.00 L466.30,93.00 L467.30,93.00 L468.30,93.00 L469.30,93.01 L470.30,93.01 L471.30,93.01 L472.30,93.01 L473.30,93.02 L474.30,93.02 L475.30,93.02 L476.30,93.03 L477.30,93.03 L478.30,93.04 L479.30,93.04 L480.30,93.05 L481.30,93.05 L482.30,93.06 L483.30,93.06 L484.30,93.07 L485.30,93.08 L486.30,93.09 L487.30,93.09 L488.30,93.10 L489.30,93.11 L490.30,93.12 L491.30,93.13 L492.30,93.14 L493.30,93.15 L494.30,93.16 L495.30,93.17 L496.30,93.19 L497.30,93.20 L498.30,93.21 L499.30,93.23 L500.30,93.24 L501.30,93.25 L502.30,93.27 L503.30,93.28 L504.30,93.30 L505.30,93.32 L506.30,93.34 L507.30,93.35 L508.30,93.37 L509.30,93.39 L510.30,93.41 L511.30,93.43 L512.30,93.45 L513.30,93.48 L514.30,93.50 L515.30,93.52 L516.30,93.55 L517.30,93.57 L518.30,93.60 L519.30,93.62 L520.30,93.65 L521.30,93.68 L522.30,93.70 L523.30,93.73 L524.30,93.76 L525.30,93.79 L526.30,93.82 L527.30,93.86 L528.30,93.89 L529.30,93.92 L530.30,93.96 L531.30,93.99 L532.30,94.03 L533.30,94.07 L534.30,94.10 L535.30,94.14 L536.30,94.18 L537.30,94.22 L538.30,94.27 L539.30,94.31 L540.30,94.35 L541.30,94.40 L542.30,94.44 L543.30,94.49 L544.30,94.53 L545.30,94.58 L546.30,94.63 L547.30,94.68 L548.30,94.73 L549.30,94.79 L550.30,94.84 L551.30,94.90 L552.30,94.96 L553.30,95.02 L554.30,95.08 L555.30,95.14 L556.30,95.21 L557.30,95.28 L558.30,95.35 L559.30,95.42 L560.30,95.49 L561.30,95.57 L562.30,95.65 L563.30,95.74 L564.30,95.82 L565.30,95.91 L566.30,96.01 L567.30,96.10 L568.30,96.20 L569.30,96.31 L570.30,96.41 L571.30,96.52 L572.30,96.64 L573.30,96.76 L574.30,96.88 L575.30,97.01 L576.30,97.14 L577.30,97.27 L578.30,97.41 L579.30,97.55 L580.30,97.70 L581.30,97.86 L582.30,98.01 L583.30,98.18 L584.30,98.34 L585.30,98.52 L586.30,98.70 L587.30,98.88 L588.30,99.07 L589.30,99.26 L590.30,99.46 L591.30,99.67 L592.30,99.88 L593.30,100.10 L594.30,100.32 L595.30,100.55 L596.30,100.79 L597.30,101.03 L598.30,101.28 L599.30,101.54 L600.30,101.80 L601.30,102.07 L602.30,102.35 L603.30,102.63 L604.30,102.92 L605.30,103.22 L606.30,103.52 L607.30,103.83 L608.30,104.15 L609.30,104.48 L610.30,104.82 L611.30,105.17 L612.30,105.53 L613.30,105.89 L614.30,106.27 L615.30,106.66 L616.30,107.07 L617.30,107.48 L618.30,107.91 L619.30,108.35 L620.30,108.81 L621.30,109.28 L622.30,109.77 L623.30,110.28 L624.30,110.80 L625.30,111.34 L626.30,111.89 L627.30,112.46 L628.30,113.06 L629.30,113.67 L630.30,114.30 L631.30,114.95 L632.30,115.63 L633.30,116.32 L634.30,117.04 L635.30,117.78 L636.30,118.54 L637.30,119.33 L638.30,120.14 L639.30,120.97 L640.30,121.83 L641.30,122.72 L642.30,123.63 L643.30,124.57 L644.30,125.54 L645.30,126.54 L646.30,127.56 L647.30,128.61 L648.30,129.70 L649.30,130.81 L650.30,131.95 L651.30,133.13 L652.30,134.34 L653.30,135.57 L654.30,136.85 L655.30,138.15 L656.30,139.49 L657.30,140.87 L658.30,142.28 L659.30,143.72 L660.30,145.20 L661.30,146.72 L662.30,148.28 L663.30,149.87 L664.30,151.50 L665.30,153.17 L666.30,154.88 L667.30,156.63 L668.30,158.42 L669.30,160.26 L670.30,162.13 L671.30,164.04 L672.30,165.98 L673.30,167.96 L674.30,169.97 L675.30,172.00 L676.30,174.06 L677.30,176.13 L678.30,178.22 L679.30,180.33 L680.30,182.45 L681.30,184.57 L682.30,186.70 L683.30,188.83 L684.30,190.96 L685.30,193.08 L686.30,195.20 L687.30,197.30 L688.30,199.39 L689.30,201.47 L690.30,203.52 L691.30,205.56" stroke="#d62728"/>
<path d="M127.68,512.90 L133.00,99.10 L138.30,93.00 L139.30,93.00 L140.30,93.00 L141.30,93.00 L142.30,93.00 L143.30,93.00 L144.30,93.00 L145.30,93.00 L146.30,93.00 L147.30,93.00 L148.30,93.00 L149.30,93.00 L150.30,93.00 L151.30,93.00 L152.30,93.00 L153.30,93.00 L154.30,93.00 L155.30,93.00 L156.30,93.00 L157.30,93.00 L158.30,93.00 L159.30,93.00 L160.30,93.00 L161.30,93.00 L162.30,93.00 L163.30,93.00 L164.30,93.00 L165.30,93.00 L166.30,93.00 L167.30,93.00 L168.30,93.00 L169.30,93.00 L170.30,93.00 L171.30,93.00 L172.30,93.00 L173.30,93.00 L174.30,93.00 L175.30,93.00 L176.30,93.00 L177.30,93.00 L178.30,93.00 L179.30,93.00 L180.30,93.00 L181.30,93.00 L182.30,93.00 L183.30,93.00 L184.30,93.00 L185.30,93.00 L186.30,93.00 L187.30,93.00 L188.30,93.00 L189.30,93.00 L190.30,93.00 L191.30,93.00 L192.30,93.00 L193.30,93.00 L194.30,93.00 L195.30,93.00 L196.30,93.00 L197.30,93.00 L198.30,93.00 L199.30,93.00 L200.30,93.00 L201.30,93.00 L202.30,93.00 L203.30,93.00 L204.30,93.00 L205.30,93.00 L206.30,93.00 L207.30,93.00 L208.30,93.00 L209.30,93.00 L210.30,93.00 L211.30,93.00 L212.30,93.00 L213.30,93.00 L214.30,93.00 L215.30,93.00 L216.30,93.00 L217.30,93.00 L218.30,93.00 L219.30,93.00 L220.30,93.00 L221.30,93.00 L222.30,93.00 L223.30,93.00 L224.30,93.00 L225.30,93.00 L226.30,93.00 L227.30,93.00 L228.30,93.00 L229.30,93.00 L230.30,93.00 L231.30,93.00 L232.30,93.00 L233.30,93.00 L234.30,93.00 L235.30,93.00 L236.30,93.00 L237.30,93.00 L238.30,93.00 L239.30,93.00 L240.30,93.00 L241.30,93.00 L242.30,93.00 L243.30,93.00 L244.30,93.00 L245.30,93.00 L246.30,93.00 L247.30,93.00 L248.30,93.00 L249.30,93.00 L250.30,93.00 L251.30,93.00 L252.30,93.00 L253.30,93.00 L254.30,93.00 L255.30,93.00 L256.30,93.00 L257.30,93.00 L258.30,93.00 L259.30,93.00 L260.30,93.00 L261.30,93.00 L262.30,93.00 L263.30,93.00 L264.30,93.00 L265.30,93.00 L266.30,93.00 L267.30,93.00 L268.30,93.00 L269.30,93.00 L270.30,93.00 L271.30,93.00 L272.30,93.00 L273.30,93.00 L274.30,93.00 L275.30,93.00 L276.30,93.00 L277.30,93.00 L278.30,93.00 L279.30,93.00 L280.30,93.00 L281.30,93.00 L282.30,93.00 L283.30,93.00 L284.30,93.00 L285.30,93.00 L286.30,93.00 L287.30,93.00 L288.30,93.00 L289.30,93.00 L290.30,93.00 L291.30,93.00 L292.30,93.00 L293.30,93.00 L294.30,93.00 L295.30,93.00 L296.30,93.00 L297.30,93.00 L298.30,93.00 L299.30,93.00 L300.30,93.00 L301.30,93.00 L302.30,93.00 L303.30,93.00 L304.30,93.00 L305.30,93.00 L306.30,93.00 L307.30,93.00 L308.30,93.00 L309.30,93.00 L310.30,93.00 L311.30,93.00 L312.30,93.00 L313.30,93.00 L314.30,93.00 L315.30,93.00 L316.30,93.00 L317.30,93.00 L318.30,93.00 L319.30,93.00 L320.30,93.00 L321.30,93.00 L322.30,93.00 L323.30,93.00 L324.30,93.00 L325.30,93.00 L326.30,93.00 L327.30,93.00 L328.30,93.00 L329.30,93.00 L330.30,93.00 L331.30,93.00 L332.30,93.00 L333.30,93.00 L334.30,93.00 L335.30,93.00 L336.30,93.00 L337.30,93.00 L338.30,93.00 L339.30,93.00 L340.30,93.00 L341.30,93.00 L342.30,93.00 L343.30,93.00 L344.30,93.00 L345.30,93.00 L346.30,93.00 L347.30,93.00 L348.30,93.00 L349.30,93.00 L350.30,93.00 L351.30,93.00 L352.30,93.00 L353.30,93.00 L354.30,93.00 L355.30,93.00 L356.30,93.00 L357.30,93.00 L358.30,93.00 L359.30,93.00 L360.30,93.00 L361.30,93.00 L362.30,93.00 L363.30,93.00 L364.30,93.00 L365.30,93.00 L366.30,93.00 L367.30,93.00 L368.30,93.00 L369.30,93.00 L370.30,93.00 L371.30,93.00 L372.30,93.00 L373.30,93.00 L374.30,93.00 L375.30,93.00 L376.30,93.00 L377.30,93.00 L378.30,93.00 L379.30,93.00 L380.30,93.00 L381.30,93.00 L382.30,93.00 L383.30,93.00 L384.30,93.00 L385.30,93.00 L386.30,93.00 L387.30,93.00 L388.30,93.00 L389.30,93.00 L390.30,93.00 L391.30,93.00 L392.30,93.00 L393.30,93.00 L394.30,93.00 L395.30,93.00 L396.30,93.00 L397.30,93.00 L398.30,93.00 L399.30,93.00 L400.30,93.00 L401.30,93.00 L402.30,93.00 L403.30,93.00 L404.30,93.00 L405.30,93.00 L406.30,93.00 L407.30,93.00 L408.30,93.00 L409.30,93.00 L410.30,93.00 L411.30,93.00 L412.30,93.00 L413.30,93.00 L414.30,93.00 L415.30,93.00 L416.30,93.00 L417.30,93.00 L418.30,93.00 L419.30,93.00 L420.30,93.00 L421.30,93.00 L422.30,93.00 L423.30,93.00 L424.30,93.00 L425.30,93.00 L426.30,93.00 L427.30,93.00 L428.30,93.00 L429.30,93.00 L430.30,93.00 L431.30,93.00 L432.30,93.00 L433.30,93.00 L434.30,93.00 L435.30,93.00 L436.30,93.00 L437.30,93.00 L438.30,93.00 L439.30,93.00 L440.30,93.00 L441.30,93.00 L442.30,93.00 L443.30,93.00 L444.30,93.00 L445.30,93.00 L446.30,93.00 L447.30,93.00 L448.30,93.00 L449.30,93.00 L450.30,93.00 L451.30,93.00 L452.30,93.00 L453.30,93.00 L454.30,93.00 L455.30,93.00 L456.30,93.00 L457.30,93.00 L458.30,93.00 L459.30,93.00 L460.30,93.00 L461.30,93.00 L462.30,93.00 L463.30,93.00 L464.30,93.00 L465.30,93.00 L466.30,93.00 L467.30,93.00 L468.30,93.00 L469.30,93.00 L470.30,93.00 L471.30,93.00 L472.30,93.00 L473.30,93.00 L474.30,93.00 L475.30,93.00 L476.30,93.00 L477.30,93.00 L478.30,93.00 L479.30,93.00 L480.30,93.00 L481.30,93.00 L482.30,93.00 L483.30,93.00 L484.30,93.00 L485.30,93.00 L486.30,93.00 L487.30,93.00 L488.30,93.00 L489.30,93.00 L490.30,93.00 L491.30,93.00 L492.30,93.00 L493.30,93.00 L494.30,93.00 L495.30,93.00 L496.30,93.00 L497.30,93.00 L498.30,93.00 L499.30,93.00 L500.30,93.00 L501.30,93.00 L502.30,93.00 L503.30,93.00 L504.30,93.00 L505.30,93.00 L506.30,93.00 L507.30,93.00 L508.30,93.00 L509.30,93.00 L510.30,93.00 L511.30,93.00 L512.30,93.00 L513.30,93.00 L514.30,93.00 L515.30,93.00 L516.30,93.00 L517.30,93.00 L518.30,93.00 L519.30,93.00 L520.30,93.00 L521.30,93.00 L522.30,93.00 L523.30,93.00 L524.30,93.00 L525.30,93.00 L526.30,93.00 L527.30,93.00 L528.30,93.00 L529.30,93.00 L530.30,93.00 L531.30,93.00 L532.30,93.00 L533.30,93.00 L534.30,93.00 L535.30,93.00 L536.30,93.00 L537.30,93.00 L538.30,93.00 L539.30,93.00 L540.30,93.00 L541.30,93.00 L542.30,93.00 L543.30,93.00 L544.30,93.00 L545.30,93.00 L546.30,93.00 L547.30,93.00 L548.30,93.00 L549.30,93.00 L550.30,93.00 L551.30,93.00 L552.30,93.00 L553.30,93.00 L554.30,93.00 L555.30,93.00 L556.30,93.00 L557.30,93.00 L558.30,93.00 L559.30,93.00 L560.30,93.00 L561.30,93.00 L562.30,93.00 L563.30,93.00 L564.30,93.00 L565.30,93.00 L566.30,93.00 L567.30,93.00 L568.30,93.00 L569.30,93.00 L570.30,93.00 L571.30,93.00 L572.30,93.00 L573.30,93.00 L574.30,93.00 L575.30,93.00 L576.30,93.00 L577.30,93.00 L578.30,93.00 L579.30,93.00 L580.30,93.00 L581.30,93.00 L582.30,93.00 L583.30,93.00 L584.30,93.00 L585.30,93.00 L586.30,93.00 L587.30,93.00 L588.30,93.00 L589.30,93.00 L590.30,93.00 L591.30,93.00 L592.30,93.00 L593.30,93.00 L594.30,93.00 L595.30,93.00 L596.30,93.00 L597.30,93.00 L598.30,93.00 L599.30,93.00 L600.30,93.00 L601.30,93.00 L602.30,93.00 L603.30,93.00 L604.30,93.00 L605.30,93.00 L606.30,93.00 L607.30,93.00 L608.30,93.00 L609.30,93.00 L610.30,93.00 L611.30,93.00 L612.30,93.00 L613.30,93.00 L614.30,93.00 L615.30,93.00 L616.30,93.00 L617.30,93.00 L618.30,93.00 L619.30,93.00 L620.30,93.01 L621.30,93.01 L622.30,93.01 L623.30,93.01 L624.30,93.02 L625.30,93.02 L626.30,93.02 L627.30,93.03 L628.30,93.03 L629.30,93.04 L630.30,93.04 L631.30,93.05 L632.30,93.05 L633.30,93.06 L634.30,93.07 L635.30,93.07 L636.30,93.08 L637.30,93.09 L638.30,93.10 L639.30,93.11 L640.30,93.11 L641.30,93.12 L642.30,93.13 L643.30,93.14 L644.30,93.15 L645.30,93.17 L646.30,93.18 L647.30,93.19 L648.30,93.20 L649.30,93.22 L650.30,93.23 L651.30,93.24 L652.30,93.26 L653.30,93.27 L654.30,93.29 L655.30,93.31 L656.30,93.32 L657.30,93.34 L658.30,93.36 L659.30,93.38 L660.30,93.40 L661.30,93.42 L662.30,93.44 L663.30,93.46 L664.30,93.48 L665.30,93.51 L666.30,93.53 L667.30,93.55 L668.30,93.58 L669.30,93.60 L670.30,93.63 L671.30,93.66 L672.30,93.68 L673.30,93.71 L674.30,93.74 L675.30,93.77 L676.30,93.80 L677.30,93.83 L678.30,93.87 L679.30,93.90 L680.30,93.93 L681.30,93.97 L682.30,94.00 L683.30,94.04 L684.30,94.08 L685.30,94.12 L686.30,94.16 L687.30,94.20 L688.30,94.24 L689.30,94.28 L690.30,94.32 L691.30,94.36" stroke="#9467bd"/>
</g>
<g shape-rendering="crispEdges" fill="#000">
<rect x="99" y="72" width="621" height="1"/>
<rect x="99" y="534" width="621" height="1"/>
<rect x="99" y="72" width="1" height="463"/>
<rect x="719" y="72" width="1" height="463"/>
<rect x="94" y="510" width="5.5" height="1"/>
<rect x="94" y="457" width="5.5" height="1"/>
<rect x="94" y="403" width="5.5" height="1"/>
<rect x="94" y="350" width="5.5" height="1"/>
<rect x="94" y="296" width="5.5" height="1"/>
<rect x="94" y="243" width="5.5" height="1"/>
<rect x="94" y="189" width="5.5" height="1"/>
<rect x="94" y="136" width="5.5" height="1"/>
<rect x="94" y="83" width="5.5" height="1"/>
<rect x="127" y="535" width="1" height="4"/>
<rect x="127" y="539" width="1" height="1" fill-opacity="0.45"/>
<rect x="240" y="535" width="1" height="4"/>
<rect x="240" y="539" width="1" height="1" fill-opacity="0.45"/>
<rect x="353" y="535" width="1" height="4"/>
<rect x="353" y="539" width="1" height="1" fill-opacity="0.45"/>
<rect x="465" y="535" width="1" height="4"/>
<rect x="465" y="539" width="1" height="1" fill-opacity="0.45"/>
<rect x="578" y="535" width="1" height="4"/>
<rect x="578" y="539" width="1" height="1" fill-opacity="0.45"/>
<rect x="691" y="535" width="1" height="4"/>
<rect x="691" y="539" width="1" height="1" fill-opacity="0.45"/>
</g>
<g font-family="'Liberation Sans', sans-serif" fill="#000">
<text x="80.66" y="516.05" font-size="14.7" textLength="8.54" lengthAdjust="spacingAndGlyphs">0</text>
<text x="71.82" y="462.56" font-size="14.7" textLength="17.38" lengthAdjust="spacingAndGlyphs">25</text>
<text x="71.82" y="409.08" font-size="14.7" textLength="17.38" lengthAdjust="spacingAndGlyphs">50</text>
<text x="71.82" y="355.59" font-size="14.7" textLength="17.38" lengthAdjust="spacingAndGlyphs">75</text>
<text x="62.98" y="302.10" font-size="14.7" textLength="26.22" lengthAdjust="spacingAndGlyphs">100</text>
<text x="62.98" y="248.61" font-size="14.7" textLength="26.22" lengthAdjust="spacingAndGlyphs">125</text>
<text x="62.98" y="195.12" font-size="14.7" textLength="26.22" lengthAdjust="spacingAndGlyphs">150</text>
<text x="62.98" y="141.64" font-size="14.7" textLength="26.22" lengthAdjust="spacingAndGlyphs">175</text>
<text x="62.98" y="88.15" font-size="14.7" textLength="26.22" lengthAdjust="spacingAndGlyphs">200</text>
<text x="117.28" y="555.1" font-size="14.7" textLength="20.40" lengthAdjust="spacingAndGlyphs">0.0</text>
<text x="230.01" y="555.1" font-size="14.7" textLength="20.40" lengthAdjust="spacingAndGlyphs">0.2</text>
<text x="342.74" y="555.1" font-size="14.7" textLength="20.40" lengthAdjust="spacingAndGlyphs">0.4</text>
<text x="455.46" y="555.1" font-size="14.7" textLength="20.40" lengthAdjust="spacingAndGlyphs">0.6</text>
<text x="568.19" y="555.1" font-size="14.7" textLength="20.40" lengthAdjust="spacingAndGlyphs">0.8</text>
<text x="680.92" y="555.1" font-size="14.7" textLength="20.40" lengthAdjust="spacingAndGlyphs">1.0</text>
<text x="335" y="574.7" font-size="14.7" textLength="148.5" lengthAdjust="spacingAndGlyphs">Position (Normalized)</text>
<text transform="translate(53.1,360) rotate(-90)" font-size="14.7" textLength="112.3" lengthAdjust="spacingAndGlyphs">Temperature (K)</text>
<text x="289.5" y="63.9" font-size="17.6" textLength="238" lengthAdjust="spacingAndGlyphs">Bed Temperature vs Position</text>
</g>
<rect x="585.5" y="418.5" width="127" height="109" rx="2.8" ry="2.8" fill="#ffffff" fill-opacity="0.8" stroke="#c8bfbd" stroke-opacity="0.8" stroke-width="1.1"/>
<g font-family="'Liberation Sans', sans-serif" fill="#000">
<line x1="591" y1="430.00" x2="619" y2="430.00" stroke="#1f77b4" stroke-width="2.08" stroke-linecap="square"/>
<text x="630.1" y="434.80" font-size="14.7" textLength="67.0" lengthAdjust="spacingAndGlyphs">Time: 50s</text>
<line x1="591" y1="451.00" x2="619" y2="451.00" stroke="#ff7f0e" stroke-width="2.08" stroke-linecap="square"/>
<text x="630.1" y="455.55" font-size="14.7" textLength="77.0" lengthAdjust="spacingAndGlyphs">Time: 150s</text>
<line x1="591" y1="472.00" x2="619" y2="472.00" stroke="#2ca02c" stroke-width="2.08" stroke-linecap="square"/>
<text x="630.1" y="476.30" font-size="14.7" textLength="77.0" lengthAdjust="spacingAndGlyphs">Time: 250s</text>
<line x1="591" y1="493.00" x2="619" y2="493.00" stroke="#d62728" stroke-width="2.08" stroke-linecap="square"/>
<text x="630.1" y="497.05" font-size="14.7" textLength="77.0" lengthAdjust="spacingAndGlyphs">Time: 350s</text>
<line x1="591" y1="514.00" x2="619" y2="514.00" stroke="#9467bd" stroke-width="2.08" stroke-linecap="square"/>
<text x="630.1" y="517.80" font-size="14.7" textLength="77.0" lengthAdjust="spacingAndGlyphs">Time: 450s</text>
</g>
</g>
</svg>
</body>
</html>
